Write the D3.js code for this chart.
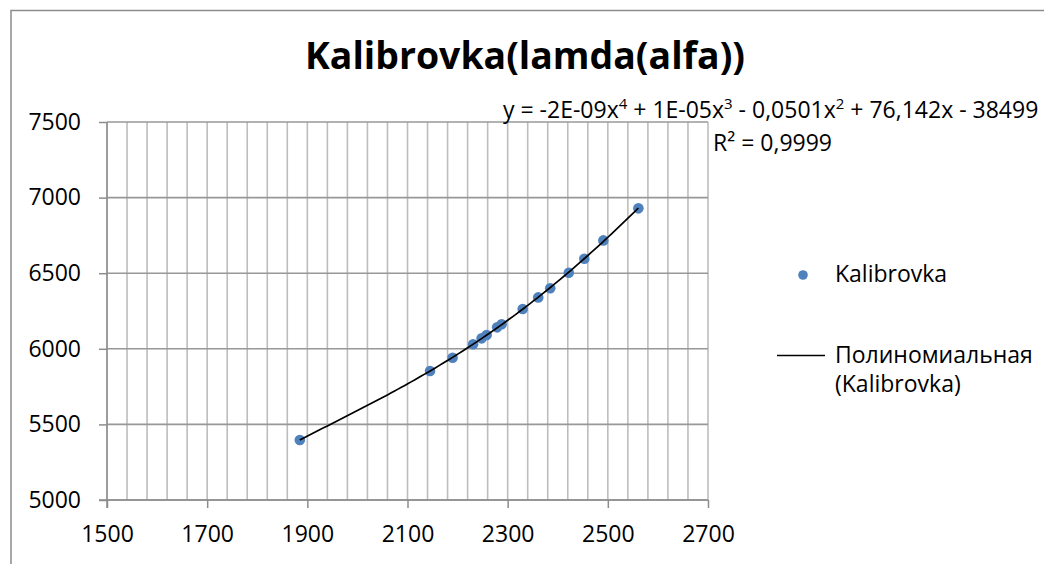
<!DOCTYPE html>
<meta charset="utf-8">
<style>
body { margin: 0; background: #fff; }
text { font-family: "Open Sans", sans-serif; fill: #000; }
</style>
<svg width="1044" height="564"></svg>
<script src="https://d3js.org/d3.v7.min.js"></script>
<script>

// values
var alfa  = [1885, 2145, 2190, 2231, 2248, 2258, 2279, 2288, 2330, 2361, 2385, 2422, 2453, 2491, 2561];
var lamda = [5397, 5853, 5941, 6030, 6069, 6091, 6142, 6162, 6263, 6340, 6400, 6503, 6596, 6717, 6929];

var xTicks = [1500, 1700, 1900, 2100, 2300, 2500, 2700];
var yTicks = [5000, 5500, 6000, 6500, 7000, 7500];

var chartTitle = "Kalibrovka(lamda(alfa))";
var seriesName = "Kalibrovka";
var trendName  = ["Полиномиальная", "(Kalibrovka)"];
var equation   = [["y = -2E-09x", "4"], [" + 1E-05x", "3"], [" - 0,0501x", "2"], [" + 76,142x - 38499", ""]];
var rSquared   = "0,9999";

var svg = d3.select("svg");

var x = d3.scaleLinear().domain([1500, 2700]).range([107, 708]);
var y = d3.scaleLinear().domain([5000, 7500]).range([500, 122]);

// chart border (cropped on right / bottom)
svg.append("path")
    .attr("d", "M11,564V10.5H1044")
    .attr("fill", "none")
    .attr("stroke", "#8c8c8c")
    .attr("stroke-width", 1.5);

// vertical minor gridlines
svg.append("g").selectAll("line")
    .data(d3.range(1500, 2701, 40))
    .enter().append("line")
    .attr("x1", function(d) { return x(d); })
    .attr("x2", function(d) { return x(d); })
    .attr("y1", y(7500)).attr("y2", y(5000))
    .attr("stroke", "#bdbdbd")
    .attr("stroke-width", 1.6);

// horizontal major gridlines
svg.append("g").selectAll("line")
    .data(yTicks)
    .enter().append("line")
    .attr("x1", x(1500)).attr("x2", x(2700))
    .attr("y1", function(d) { return y(d); })
    .attr("y2", function(d) { return y(d); })
    .attr("stroke", "#989898")
    .attr("stroke-width", 1.6);

// axes
var yAxis = svg.append("g")
    .attr("transform", "translate(" + x(1500) + ",0)")
    .call(d3.axisLeft(y).tickValues(yTicks).tickSize(8).tickPadding(18).tickFormat(d3.format("d")));
var xAxis = svg.append("g")
    .attr("transform", "translate(0," + y(5000) + ")")
    .call(d3.axisBottom(x).tickValues(xTicks).tickSize(8).tickPadding(18).tickFormat(d3.format("d")));

[yAxis, xAxis].forEach(function(a) {
  a.select(".domain").remove();
  a.selectAll("line").attr("stroke", "#8c8c8c").attr("stroke-width", 1.5);
  a.selectAll("text").attr("font-size", 23).attr("fill", "#000")
      .style("font-family", "'Open Sans', sans-serif");
});
svg.append("line")
    .attr("x1", x(1500)).attr("x2", x(1500))
    .attr("y1", y(7500)).attr("y2", y(5000) + 8)
    .attr("stroke", "#8c8c8c").attr("stroke-width", 1.5);
svg.append("line")
    .attr("x1", x(1500) - 8).attr("x2", x(2700))
    .attr("y1", y(5000)).attr("y2", y(5000))
    .attr("stroke", "#8c8c8c").attr("stroke-width", 1.5);

// polynomial (order 4) least squares trend, like Excel's trendline
function polyFit(xs, ys, order, c, s) {
  var n = order + 1, A = [], i, j, k;
  for (i = 0; i < n; i++) { A.push(new Array(n + 1).fill(0)); }
  xs.forEach(function(xv, p) {
    var t = (xv - c) / s;
    for (i = 0; i < n; i++) {
      for (j = 0; j < n; j++) A[i][j] += Math.pow(t, i + j);
      A[i][n] += ys[p] * Math.pow(t, i);
    }
  });
  for (i = 0; i < n; i++) {
    var piv = i;
    for (k = i + 1; k < n; k++) if (Math.abs(A[k][i]) > Math.abs(A[piv][i])) piv = k;
    var tmp = A[i]; A[i] = A[piv]; A[piv] = tmp;
    for (k = i + 1; k < n; k++) {
      var f = A[k][i] / A[i][i];
      for (j = i; j <= n; j++) A[k][j] -= f * A[i][j];
    }
  }
  var coef = new Array(n).fill(0);
  for (i = n - 1; i >= 0; i--) {
    var sum = A[i][n];
    for (j = i + 1; j < n; j++) sum -= A[i][j] * coef[j];
    coef[i] = sum / A[i][i];
  }
  return function(xv) {
    var t = (xv - c) / s, v = 0;
    for (var q = n - 1; q >= 0; q--) v = v * t + coef[q];
    return v;
  };
}

var fit = polyFit(alfa, lamda, 4, 2200, 400);
var xMin = d3.min(alfa), xMax = d3.max(alfa);
var trend = d3.range(0, 101).map(function(i) {
  var xv = xMin + (xMax - xMin) * i / 100;
  return [xv, fit(xv)];
});

// data points
svg.append("g").selectAll("circle")
    .data(alfa)
    .enter().append("circle")
    .attr("cx", function(d) { return x(d); })
    .attr("cy", function(d, i) { return y(lamda[i]); })
    .attr("r", 5.3)
    .attr("fill", "#4f81bd");

svg.append("path")
    .datum(trend)
    .attr("fill", "none")
    .attr("stroke", "#000")
    .attr("stroke-width", 1.7)
    .attr("d", d3.line().x(function(d) { return x(d[0]); }).y(function(d) { return y(d[1]); }));

// title
svg.append("text")
    .attr("x", 525).attr("y", 69)
    .attr("text-anchor", "middle")
    .attr("font-size", 37)
    .attr("font-weight", "bold")
    .attr("textLength", 440)
    .attr("lengthAdjust", "spacingAndGlyphs")
    .text(chartTitle);

// trendline label
var eq = svg.append("text")
    .attr("x", 503).attr("y", 118)
    .attr("font-size", 23);
var shift = 0;
equation.forEach(function(part) {
  eq.append("tspan").attr("dy", shift).text(part[0]);
  shift = 0;
  if (part[1]) {
    eq.append("tspan").attr("dy", -9).attr("font-size", 15).text(part[1]);
    shift = 9;
  }
});
svg.append("text")
    .attr("x", 713).attr("y", 151)
    .attr("font-size", 23)
    .text("R² = " + rSquared);

// legend
svg.append("circle")
    .attr("cx", 803).attr("cy", 275)
    .attr("r", 4.8)
    .attr("fill", "#4f81bd");
svg.append("text")
    .attr("x", 835).attr("y", 282)
    .attr("font-size", 23)
    .text(seriesName);
svg.append("line")
    .attr("x1", 777).attr("x2", 825)
    .attr("y1", 355.5).attr("y2", 355.5)
    .attr("stroke", "#000").attr("stroke-width", 1.7);
svg.append("text")
    .attr("x", 835).attr("y", 363)
    .attr("font-size", 23)
    .selectAll("tspan")
    .data(trendName)
    .enter().append("tspan")
    .attr("x", 835)
    .attr("dy", function(d, i) { return i ? 29 : 0; })
    .text(function(d) { return d; });

</script>
